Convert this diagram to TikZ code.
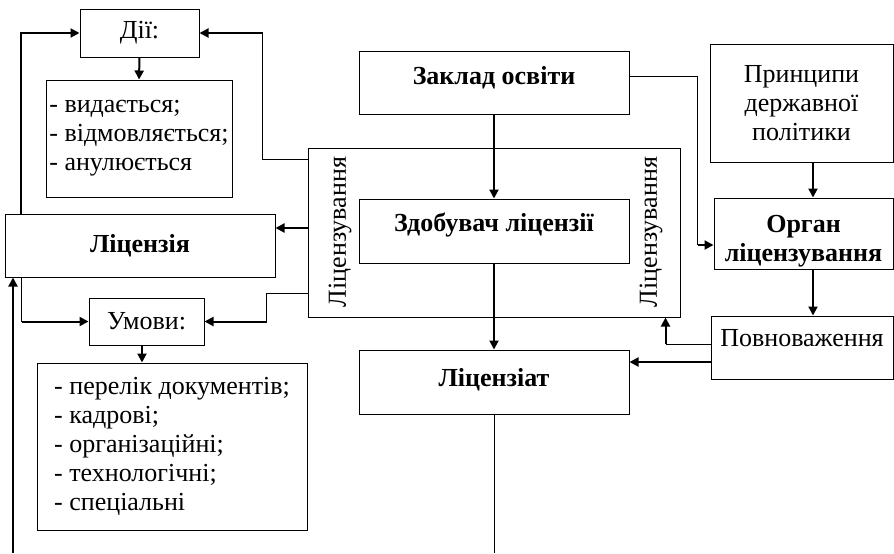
\documentclass[tikz,border=0pt]{standalone}
\usepackage{fontspec}
\setmainfont{Liberation Serif}
\usetikzlibrary{arrows.meta}

\begin{document}
\begin{tikzpicture}[x=0.5pt,y=-0.5pt]
\tikzstyle{every node}+=[font=\fontsize{13}{14.5}\selectfont]
\tikzstyle{box}=[draw, line width=0.5pt, inner sep=0pt, align=center]
\tikzstyle{line}=[line width=0.5pt]
\tikzstyle{arr}=[line width=1pt, -{Triangle[length=4.5pt,width=4.5pt]}]
\useasboundingbox (0,0) rectangle (894,553);

% left column
\node[box, minimum width=59.5pt, minimum height=24pt] (dii) at (139.5,33) {Дії:};
\node[box, minimum width=93pt, minimum height=58.5pt, align=left] (diilist) at (139,138.5) {- видається;\\- відмовляється;\\- анулюється};
\node[box, minimum width=135pt, minimum height=31.5pt] (licenzia) at (140,245.5) {\textbf{Ліцензія}};
\node[box, minimum width=57.5pt, minimum height=23.5pt] (umovy) at (146.5,321.5) {Умови:};
\node[box, minimum width=135pt, minimum height=83.5pt, align=left] (umovylist) at (172,446.5) {- перелік документів;\\- кадрові;\\- організаційні;\\- технологічні;\\- спеціальні};

% middle column
\node[box, minimum width=135pt, minimum height=31.5pt, text depth=7pt] (zaklad) at (494,82.5) {\textbf{Заклад освіти}};
\node[box, minimum width=186pt, minimum height=84.5pt] (frame) at (494,232.5) {};
\node[box, minimum width=135pt, minimum height=32pt, text depth=9pt] (zdobuvach) at (494,231) {\textbf{Здобувач ліцензії}};
\node[box, minimum width=135pt, minimum height=32pt, text depth=5pt] (licenziat) at (494,382) {\textbf{Ліцензіат}};
\node[rotate=90] (lbleft) at (340,232) {Ліцензування};
\node[rotate=90] (lbright) at (651,232) {Ліцензування};

% right column
\node[box, minimum width=91.5pt, minimum height=59pt] (pryntsypy) at (801.5,103) {Принципи\\державної\\політики};
\node[box, minimum width=89.5pt, minimum height=35.5pt, text height=31pt] (organ) at (803.5,233.5) {\textbf{Орган}\\\textbf{ліцензування}};
\node[box, minimum width=91pt, minimum height=31.5pt, text depth=10pt] (povn) at (802,347.5) {Повноваження};

% left connectors
\draw[arr] ([xshift=8pt]licenzia.north west) |- (dii.west);
\draw[line] ([yshift=-6pt]frame.north west) -- ++(-45,0) coordinate (b1) -- (b1 |- dii.east);
\draw[arr] (b1 |- dii.east) -- (dii.east);
\draw[arr] (dii.south) -- (diilist.north);
\coordinate (licin) at ([yshift=8.75pt]licenzia.east);
\draw[arr] (frame.west |- licin) -- (licin);
\draw[line] ([yshift=12pt]frame.south west) -- ++(-41,0) coordinate (b2) -- (b2 |- umovy.east);
\draw[arr] (b2 |- umovy.east) -- (umovy.east);
\draw[line] ([xshift=8.5pt]licenzia.south west) coordinate (b3) -- (b3 |- umovy.west);
\draw[arr] (b3 |- umovy.west) -- (umovy.west);
\draw[arr] ([xshift=-2.25pt]umovy.south) -- ([xshift=-2.25pt]umovy.south |- umovylist.north);
\coordinate (lstart) at (13,553);
\draw[arr] (lstart) -- (lstart |- licenzia.south);

% middle connectors
\draw[arr] (zaklad.south) -- (zdobuvach.north);
\draw[arr] (zdobuvach.south) -- (licenziat.north);
\coordinate (lend) at (494,553);
\draw[line] (licenziat.south) -- (lend);

% right connectors
\coordinate (orgin) at ([yshift=-5.75pt]organ.west);
\draw[line] ([yshift=3.25pt]zaklad.east) -- ++(68,0) coordinate (b4) -- (b4 |- orgin);
\draw[arr] (b4 |- orgin) -- (orgin);
\draw[arr] ([xshift=5.75pt]pryntsypy.south) -- ([xshift=5.75pt]pryntsypy.south |- organ.north);
\draw[arr] ([xshift=4.75pt]organ.south) -- ([xshift=4.75pt]organ.south |- povn.north);
\draw[line] ([yshift=1.75pt]povn.west) -- ++(-45,0) coordinate (b5);
\draw[arr] (b5) -- (b5 |- frame.south);
\draw[arr] ([yshift=-7.25pt]povn.west) -- ([yshift=-7.25pt]povn.west -| licenziat.east);
\end{tikzpicture}
\end{document}
